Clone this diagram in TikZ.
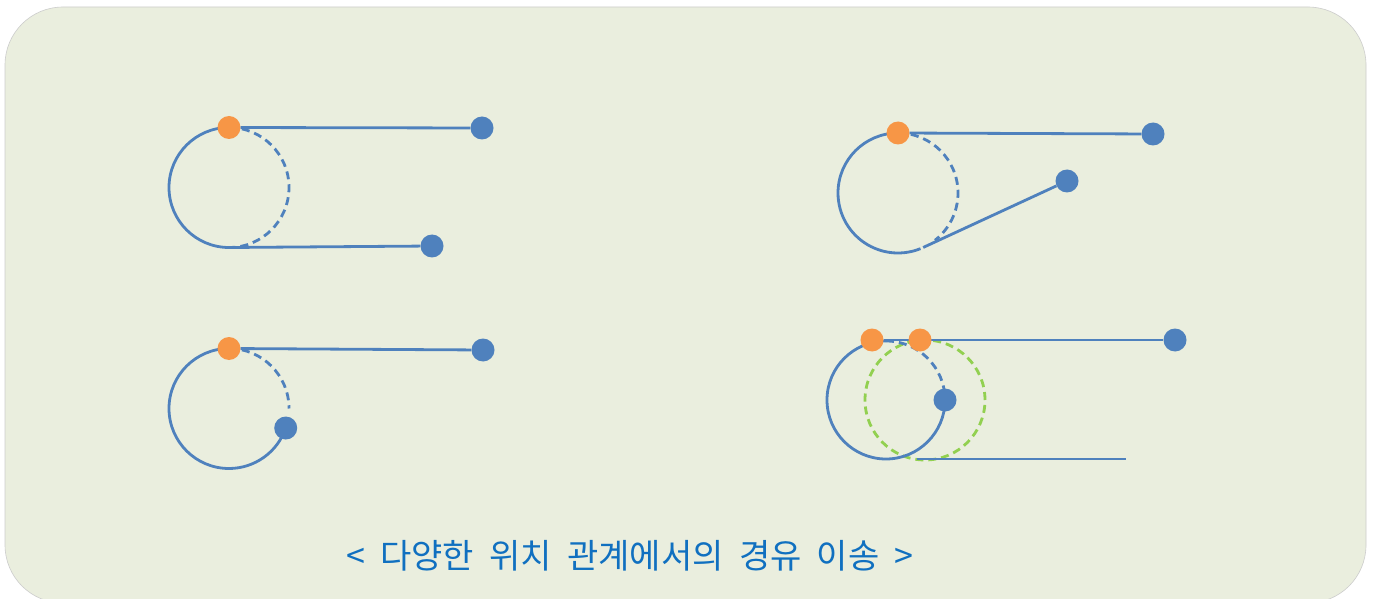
\documentclass[tikz,border=0pt]{standalone}
\usepackage{fontspec}
\usetikzlibrary{calc}
\newfontfamily\kofont{Noto Sans CJK KR}
\definecolor{bgc}{RGB}{234,238,222}
\definecolor{lblue}{RGB}{79,129,189}
\definecolor{orng}{RGB}{247,150,70}
\definecolor{grn}{RGB}{146,208,80}
\definecolor{txtc}{RGB}{16,112,192}
\tikzset{
  dotb/.style={circle,fill=lblue,inner sep=0pt,minimum size=23pt},
  doto/.style={circle,fill=orng,inner sep=0pt,minimum size=23pt},
  bpath/.style={draw=lblue,line width=2.8pt},
  dpath/.style={draw=lblue,line width=2.8pt,dash pattern=on 8pt off 5pt},
  gpath/.style={draw=grn,line width=2.8pt,dash pattern=on 8pt off 5pt},
}
\begin{document}
\begin{tikzpicture}[x=1pt,y=1pt]
\useasboundingbox (0,0) rectangle (1381,598);
\fill[white] (0,0) rectangle (1381,598);
\filldraw[fill=bgc,draw=black!20,line width=0.6pt,rounded corners=58pt] (5,-5) rectangle (1366,591);

% ---- panel 1 ----
\coordinate (c1) at (229,410.5);
\draw[dpath] (c1) ++(90:60) arc[start angle=90,end angle=-90,radius=60];
\draw[bpath] (c1) ++(90:60) arc[start angle=90,end angle=270,radius=60];
\coordinate (t1) at ($(c1)+(270:60)$);
\node[doto] (o1) at (229,470.5) {};
\node[dotb] (b1a) at (482,470) {};
\node[dotb] (b1b) at (432,352) {};
\draw[bpath] (o1) -- (b1a);
\draw[bpath] (t1) -- (b1b);

% ---- panel 2 ----
\coordinate (c2) at (898,405);
\draw[dpath] (c2) ++(90:60) arc[start angle=90,end angle=-52,radius=60];
\draw[bpath] (c2) ++(90:60) arc[start angle=90,end angle=292,radius=60];
\coordinate (t2) at ($(c2)+(-65.2:60)$);
\node[doto] (o2) at (898,465) {};
\node[dotb] (b2a) at (1153,464) {};
\node[dotb] (b2b) at (1067,417) {};
\draw[bpath] (o2) -- (b2a);
\draw[bpath] (b2b) -- (t2);

% ---- panel 3 ----
\coordinate (c3) at (229,189.5);
\draw[dpath] (c3) ++(90:60) arc[start angle=90,end angle=0,radius=60];
\draw[bpath] (c3) ++(90:60) arc[start angle=90,end angle=341,radius=60];
\node[doto] (o3) at (229,249.5) {};
\node[dotb] (b3a) at (483,248) {};
\node[dotb] (b3b) at ($(c3)+(-19:60)$) {};
\draw[bpath] (o3) -- (b3a);

% ---- panel 4 ----
\coordinate (c4) at (886,198);
\coordinate (g4) at (925,198);
\draw[gpath] (g4) circle[radius=60];
\draw[dpath] (c4) ++(90:59) arc[start angle=90,end angle=0,radius=59];
\draw[bpath] (c4) ++(90:59) arc[start angle=90,end angle=360,radius=59];
\coordinate (s4) at (917,139);
\coordinate (e4) at (1126,139);
\draw[bpath] (s4) -- (e4);
\node[doto] (o4a) at (872,258) {};
\node[dotb] (b4a) at (1175,258) {};
\draw[bpath] (o4a) -- (b4a);
\node[doto] (o4b) at (920,258) {};
\node[dotb] (b4b) at (945,198) {};

% ---- caption ----
\node[text=txtc,font=\kofont\fontsize{34}{40}\selectfont] (cap) at (630,42) {\spaceskip=0.45em\relax < 다양한 위치 관계에서의 경유 이송 >};
\end{tikzpicture}
\end{document}
